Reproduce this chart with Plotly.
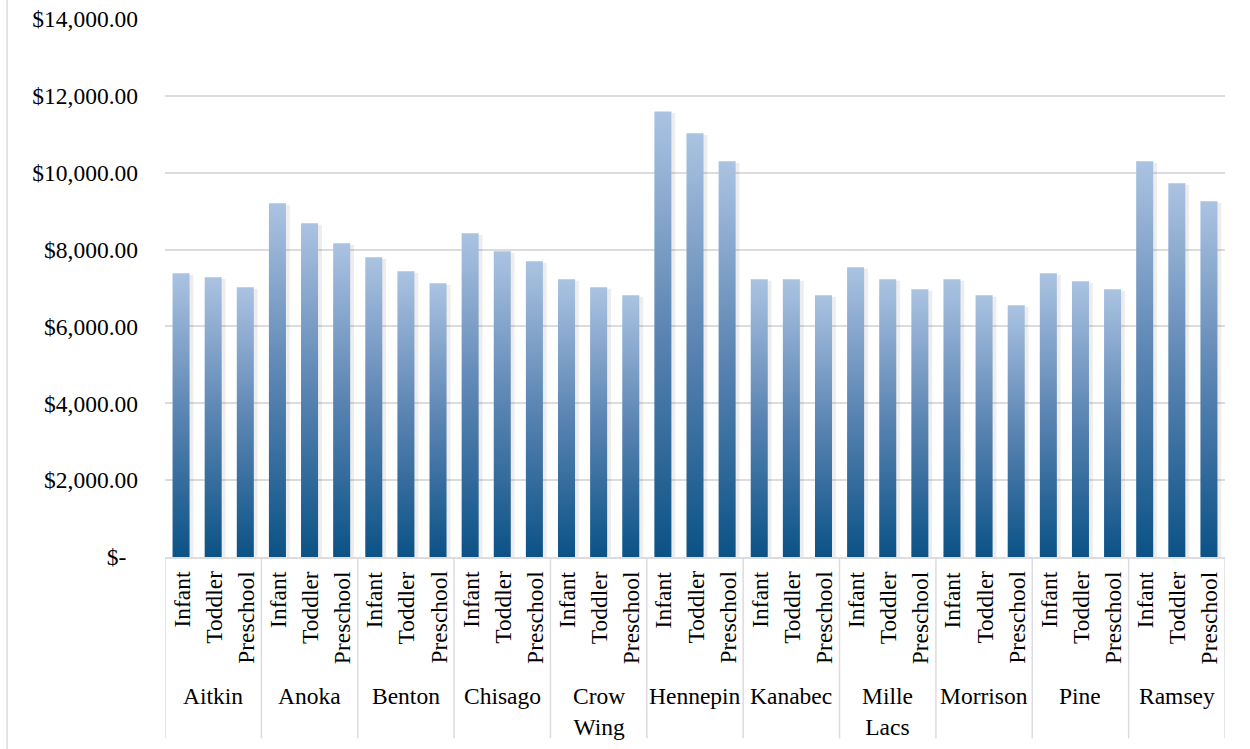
import plotly.graph_objects as go

# Annual child care cost by county and age group
counties = ["Aitkin", "Anoka", "Benton", "Chisago", "Crow Wing", "Hennepin",
            "Kanabec", "Mille Lacs", "Morrison", "Pine", "Ramsey"]
age_groups = ["Infant", "Toddler", "Preschool"]
infant = [7384, 9204, 7800, 8424, 7228, 11596, 7228, 7540, 7228, 7384, 10296]
toddler = [7280, 8684, 7436, 7956, 7020, 11024, 7228, 7228, 6812, 7176, 9724]
preschool = [7020, 8164, 7124, 7696, 6812, 10296, 6812, 6968, 6552, 6968, 9256]

tick_values = [0, 2000, 4000, 6000, 8000, 10000, 12000, 14000]
tick_labels = ["$-\u00a0\u00a0", "$2,000.00", "$4,000.00", "$6,000.00", "$8,000.00",
               "$10,000.00", "$12,000.00", "$14,000.00"]

FONT = "Liberation Serif"
FSIZE = 23.5
DARK = "#0b5286"
MID = "#5a84b2"
LIGHT = "#abc3e2"
GRID = "#dcdce0"
HALF = 0.265  # half bar width in category units

series = [infant, toddler, preschool]

fig = go.Figure()

for g, county in enumerate(counties):
    for k, age in enumerate(age_groups):
        pos = g * 3 + k
        v = series[k][g]
        # soft drop shadow
        fig.add_trace(go.Scatter(
            x=[pos - HALF + 0.07, pos - HALF + 0.07, pos + HALF + 0.12, pos + HALF + 0.12, pos - HALF + 0.07],
            y=[0, v - 40, v - 40, 0, 0],
            mode="lines", fill="toself",
            fillcolor="rgba(0,0,0,0.07)",
            line=dict(width=0, color="rgba(0,0,0,0)"),
            hoverinfo="skip", showlegend=False,
        ))
        # gradient-filled bar
        fig.add_trace(go.Scatter(
            x=[pos - HALF, pos - HALF, pos + HALF, pos + HALF, pos - HALF],
            y=[0, v, v, 0, 0],
            mode="lines", fill="toself",
            fillgradient=dict(type="vertical",
                              colorscale=[[0, DARK], [0.5, MID], [1, LIGHT]],
                              start=0, stop=v),
            line=dict(width=0, color="rgba(0,0,0,0)"),
            name=f"{county} {age}",
            hovertemplate=f"{county} – {age}: $%{{customdata:,.2f}}<extra></extra>",
            customdata=[v] * 5,
            showlegend=False,
        ))

n_slots = len(counties) * len(age_groups)

annotations = []
shapes = []
for g, county in enumerate(counties):
    for k, age in enumerate(age_groups):
        annotations.append(dict(
            x=g * 3 + k, y=0, xref="x", yref="paper",
            text=age, textangle=-90, showarrow=False,
            xanchor="center", yanchor="top", yshift=-12,
            font=dict(family=FONT, size=FSIZE, color="#000000"),
        ))
    annotations.append(dict(
        x=g * 3 + 1, y=0, xref="x", yref="paper",
        text=county.replace(" ", "<br>"), showarrow=False,
        xanchor="center", yanchor="top", yshift=-124,
        font=dict(family=FONT, size=FSIZE, color="#000000"),
    ))

# group dividers below the category axis
for b in range(len(counties) + 1):
    shapes.append(dict(
        type="line", xref="x", yref="paper",
        x0=b * 3 - 0.5, x1=b * 3 - 0.5, y0=0, y1=-0.337,
        line=dict(color=GRID, width=1.5),
    ))

# chart border on the left
shapes.append(dict(
    type="line", xref="paper", yref="paper",
    x0=-0.149, x1=-0.149, y0=-0.36, y1=1.04,
    line=dict(color=GRID, width=1.5),
))

fig.update_layout(
    width=1250, height=749,
    margin=dict(l=165, r=25, t=19, b=192, autoexpand=False),
    paper_bgcolor="white", plot_bgcolor="white",
    font=dict(family=FONT, size=FSIZE, color="#000000"),
    xaxis=dict(range=[-0.5, n_slots - 0.5], showticklabels=False,
               showgrid=False, zeroline=False, showline=True,
               linecolor=GRID, linewidth=1.5, fixedrange=True,
               automargin=False),
    yaxis=dict(range=[0, 14000], tickvals=tick_values, ticktext=tick_labels,
               showgrid=True, gridcolor=GRID, gridwidth=1.5,
               zeroline=False, showline=False, ticks="",
               ticklabelstandoff=26, automargin=False,
               tickfont=dict(family=FONT, size=FSIZE, color="#000000")),
    annotations=annotations,
    shapes=shapes,
    showlegend=False,
)

fig.write_html("out.html")
